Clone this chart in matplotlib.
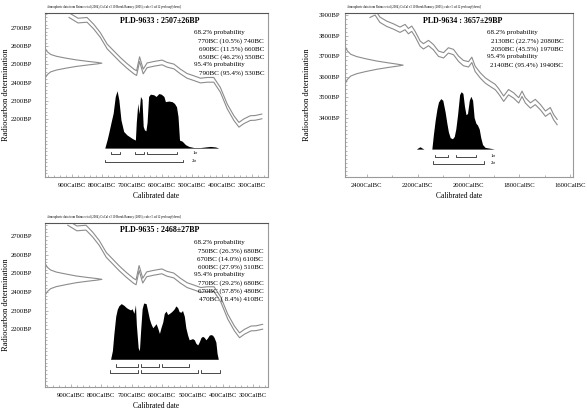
"""OxCal style calibration plots for three PLD samples."""

import matplotlib as mpl
mpl.use('Agg')
from matplotlib import pyplot as plt
from matplotlib.ticker import MultipleLocator, FixedLocator, FuncFormatter

plt.rcParams['font.family'] = ['Liberation Serif', 'DejaVu Serif']

HEADER = ("Atmospheric data from Reimer et al (2004);OxCal v3.10 Bronk Ramsey (2005); "
          "cub r:5 sd:12 prob usp[chron]")

# --- calibration curve (IntCal04 around 900-270 BC), values in BC / BP
cal_a_bc = [910, 880, 850, 828, 806, 783, 761, 739, 717, 694, 685, 675, 663, 650,
            628, 600, 583, 561, 539, 517, 494, 472, 450, 428, 406, 383, 361, 344,
            328, 306, 290, 268]
cal_a_bp = [2772, 2742, 2746, 2709, 2663, 2599, 2562, 2525, 2492, 2461, 2452, 2529,
            2461, 2495, 2503, 2511, 2498, 2489, 2461, 2437, 2424, 2411, 2415, 2415,
            2360, 2268, 2204, 2167, 2186, 2204, 2205, 2213]

# --- calibration curve around 2390-1650 BC
cal_b_bc = [2387, 2367, 2348, 2321, 2295, 2269, 2249, 2236, 2223, 2210, 2190, 2177,
            2157, 2138, 2118, 2098, 2079, 2059, 2039, 2020, 2000, 1987, 1974, 1954,
            1934, 1915, 1895, 1882, 1862, 1843, 1823, 1803, 1790, 1777, 1757, 1738,
            1718, 1698, 1679, 1666, 1652]
cal_b_bp = [3903, 3915, 3879, 3859, 3846, 3830, 3843, 3823, 3835, 3810, 3762, 3749,
            3765, 3745, 3713, 3705, 3729, 3721, 3688, 3667, 3661, 3683, 3639, 3607,
            3582, 3566, 3550, 3530, 3493, 3525, 3509, 3485, 3517, 3485, 3460, 3477,
            3452, 3420, 3437, 3403, 3379]
cal_err = 13

gauss_w = [0.01, 0.04, 0.1, 0.2, 0.36, 0.55, 0.75, 0.92, 1.0,
           0.92, 0.75, 0.55, 0.36, 0.2, 0.1, 0.04, 0.01]
g1_bp = [2585, 2570, 2555, 2545, 2535, 2525, 2517, 2511, 2507,
         2503, 2497, 2489, 2479, 2469, 2459, 2444, 2429]
g2_bp = [3744, 3727, 3710, 3699, 3688, 3677, 3668, 3661, 3657,
         3653, 3646, 3637, 3626, 3615, 3604, 3587, 3570]
g3_bp = [2549, 2533, 2518, 2507, 2497, 2486, 2478, 2472, 2468,
         2464, 2458, 2450, 2439, 2429, 2418, 2402, 2387]

# --- calibrated distributions (relative probability)
p1_bc = [791, 783, 778, 770, 763, 756, 750, 744, 737, 728, 717, 700, 689, 686,
         681, 677, 672, 667, 663, 659, 654, 650, 645, 639, 628, 620, 611, 603,
         594, 589, 578, 567, 559, 552, 547, 542, 533, 522, 511, 494, 472, 456,
         439, 422, 411]
p1_p = [0.0, 0.15, 0.26, 0.45, 0.61, 0.9, 1.0, 0.84, 0.49, 0.29, 0.23, 0.17,
        0.14, 0.45, 0.78, 0.6, 0.9, 0.85, 0.38, 0.32, 0.3, 0.45, 0.9, 0.94, 0.93,
        0.9, 0.95, 0.94, 0.9, 0.81, 0.82, 0.81, 0.78, 0.72, 0.55, 0.14, 0.12,
        0.06, 0.03, 0.01, 0.01, 0.02, 0.03, 0.02, 0.0]

p2_bc = [2205, 2195, 2190, 2183, 2175, 2144, 2138, 2131, 2124, 2118, 2109, 2101,
         2092, 2085, 2079, 2072, 2063, 2056, 2050, 2043, 2035, 2029, 2022, 2016,
         2010, 2004, 1997, 1991, 1984, 1978, 1971, 1965, 1958, 1952, 1945, 1935,
         1922, 1909, 1899]
p2_p = [0.0, 0.03, 0.04, 0.02, 0.0, 0.0, 0.25, 0.5, 0.7, 0.82, 0.88, 0.85,
        0.65, 0.45, 0.3, 0.2, 0.18, 0.22, 0.35, 0.6, 0.95, 1.0, 0.97, 0.75,
        0.6, 0.62, 0.85, 0.92, 0.85, 0.55, 0.45, 0.42, 0.35, 0.2, 0.08, 0.03,
        0.02, 0.01, 0.0]

p3_bc = [769, 763, 758, 752, 747, 742, 734, 725, 717, 711, 703, 698, 692, 687,
         684, 678, 674, 670, 665, 660, 652, 647, 641, 636, 630, 625, 619, 614,
         608, 603, 597, 592, 586, 581, 575, 570, 564, 559, 554, 548, 543, 537,
         532, 526, 521, 515, 510, 504, 499, 493, 488, 482, 477, 471, 466, 460,
         455, 450, 444, 439, 433, 428, 422, 418, 414]
p3_p = [0.0, 0.15, 0.45, 0.75, 0.87, 0.93, 0.97, 0.94, 0.9, 0.88, 0.86, 0.88,
        0.8, 0.95, 0.6, 0.2, 0.15, 0.5, 0.88, 0.98, 0.97, 0.85, 0.7, 0.62,
        0.55, 0.58, 0.62, 0.55, 0.45, 0.55, 0.65, 0.8, 0.84, 0.78, 0.8, 0.82,
        0.85, 0.88, 0.93, 0.9, 0.83, 0.82, 0.85, 0.75, 0.55, 0.42, 0.34, 0.35,
        0.36, 0.34, 0.28, 0.25, 0.3, 0.38, 0.4, 0.38, 0.34, 0.37, 0.42, 0.43,
        0.42, 0.38, 0.3, 0.1, 0.0]

# --- ranges (start BC, end BC)
r1_1s = [(770, 740), (690, 660), (650, 550)]
r1_2s = [(790, 530)]
r2_1s = [(2130, 2080), (2050, 1970)]
r2_2s = [(2140, 1940)]
r3_1s = [(750, 680), (670, 610), (600, 510)]
r3_2s = [(770, 680), (670, 480), (470, 410)]

# labelled ticks
yt_a = [2200, 2300, 2400, 2500, 2600, 2700]
yt_b = [3400, 3500, 3600, 3700, 3800, 3900]
xt_a = [900, 800, 700, 600, 500, 400, 300]
xt_b = [2400, 2200, 2000, 1800, 1600]

titles = ["PLD-9633 : 2507\u00b126BP", "PLD-9634 : 3657\u00b129BP",
          "PLD-9635 : 2468\u00b127BP"]
prob_texts = [
    ["68.2% probability", "770BC (10.5%) 740BC", "690BC (11.5%) 660BC",
     "650BC (46.2%) 550BC", "95.4% probability", "790BC (95.4%) 530BC"],
    ["68.2% probability", "2130BC (22.7%) 2080BC", "2050BC (45.5%) 1970BC",
     "95.4% probability", "2140BC (95.4%) 1940BC"],
    ["68.2% probability", "750BC (26.3%) 680BC", "670BC (14.0%) 610BC",
     "600BC (27.9%) 510BC", "95.4% probability", "770BC (29.2%) 680BC",
     "670BC (57.8%) 480BC", "470BC ( 8.4%) 410BC"],
]

FRAME = "#9a9a9a"
CURVE = "#8c8c8c"


def brackets(ax, ranges, y):
    """1 sigma / 2 sigma range brackets (y in axes fraction)."""
    tr = ax.get_xaxis_transform()
    for a, b in ranges:
        ax.plot([a, a, b, b], [y + 0.014, y, y, y + 0.014], color="black",
                lw=0.5, transform=tr, clip_on=False)


def panel(ax, cal_bc, cal_bp, g_bp, p_bc, p_p, s1, s2, title, lines,
          xlim, ylim, xt, yt, xminor, ypad, ylab_x, base, y1, y2, sig_x, txt_x,
          show_sig=True):
    ax.set_xlim(*xlim)
    ax.set_ylim(*ylim)
    for sp in ax.spines.values():
        sp.set_color(FRAME)
        sp.set_linewidth(0.8)
    ax.spines["top"].set_color("#555555")

    # calibration curve, +- 1 sigma
    ax.plot(cal_bc, [v + cal_err for v in cal_bp], color=CURVE, lw=0.8)
    ax.plot(cal_bc, [v - cal_err for v in cal_bp], color=CURVE, lw=0.8)

    # radiocarbon measurement on the y axis
    ty = ax.get_yaxis_transform()
    ax.plot([w * 0.255 for w in gauss_w], g_bp, color=CURVE, lw=0.8, transform=ty)

    # calibrated distribution
    tx = ax.get_xaxis_transform()
    ax.fill_between(p_bc, [base] * len(p_p), [base + v * 0.35 for v in p_p],
                    color="black", lw=0, transform=tx)
    ax.axhline(base, xmin=0.1, xmax=0.925, color="black", lw=0.6)

    brackets(ax, s1, y1)
    brackets(ax, s2, y2)
    if show_sig:
        ax.text(sig_x, y1 + 0.005, "1\u03c3", transform=ax.transAxes, fontsize=3.5,
                va="center")
        ax.text(sig_x, y2 + 0.005, "2\u03c3", transform=ax.transAxes, fontsize=3.5,
                va="center")

    ax.text(0.515, 0.955, title, transform=ax.transAxes, fontsize=5.8,
            fontweight="bold", ha="center", va="center")
    ax.text(0.01, 1.037, HEADER, transform=ax.transAxes, fontsize=2.2,
            va="center")

    yy = 0.88
    for s in lines:
        if "probability" in s:
            ax.text(txt_x[0], yy, s, transform=ax.transAxes, fontsize=5,
                    va="center")
        else:
            ax.text(txt_x[1], yy, s, transform=ax.transAxes, fontsize=5,
                    va="center", ha="right")
        yy -= 0.049

    ax.xaxis.set_major_locator(FixedLocator(xt))
    ax.xaxis.set_minor_locator(MultipleLocator(xminor))
    ax.xaxis.set_major_formatter(FuncFormatter(lambda v, p: "%dCalBC" % v))
    ax.yaxis.set_major_locator(FixedLocator(yt))
    ax.yaxis.set_minor_locator(MultipleLocator(20))
    ax.yaxis.set_major_formatter(FuncFormatter(lambda v, p: "%dBP" % v))
    ax.tick_params(which="both", direction="in", color=FRAME, width=0.5,
                   labelsize=4.8)
    ax.tick_params(which="major", length=2.5)
    ax.tick_params(which="minor", length=1.5)
    ax.tick_params(axis="x", pad=4)
    ax.tick_params(axis="y", pad=ypad)
    ax.set_xlabel("Calibrated date", fontsize=5.5, labelpad=3)
    ax.set_ylabel("Radiocarbon determination", fontsize=6)
    ax.yaxis.set_label_coords(ylab_x, 0.5)
    ax.tick_params(top=False, right=False)


fig = plt.figure(figsize=(5.87, 4.11), dpi=100)
ax1 = fig.add_axes([0.0767, 0.569, 0.38, 0.399])
ax2 = fig.add_axes([0.5877, 0.569, 0.3884, 0.399])
ax3 = fig.add_axes([0.0767, 0.0584, 0.38, 0.399])

panel(ax1, cal_a_bc, cal_a_bp, g1_bp, p1_bc, p1_p, r1_1s, r1_2s, titles[0],
      prob_texts[0], (990, 247), (1878, 2783), xt_a, yt_a, 20, 9.5, -0.155,
      0.177, 0.14, 0.091, 0.66, (0.67, 0.982))
panel(ax2, cal_b_bc, cal_b_bp, g2_bp, p2_bc, p2_p, r2_1s, r2_2s, titles[1],
      prob_texts[1], (2485, 1590), (3110, 3911), xt_b, yt_b, 100, 3.5, -0.148,
      0.171, 0.124, 0.083, 0.64, (0.621, 0.957))
panel(ax3, cal_a_bc, cal_a_bp, g3_bp, p3_bc, p3_p, r3_1s, r3_2s, titles[2],
      prob_texts[2], (985, 250), (1889, 2771), xt_a, yt_a, 20, 9.5, -0.155,
      0.169, 0.124, 0.087, 0.66, (0.67, 0.978), show_sig=False)

fig.savefig("out.png", dpi=100)
